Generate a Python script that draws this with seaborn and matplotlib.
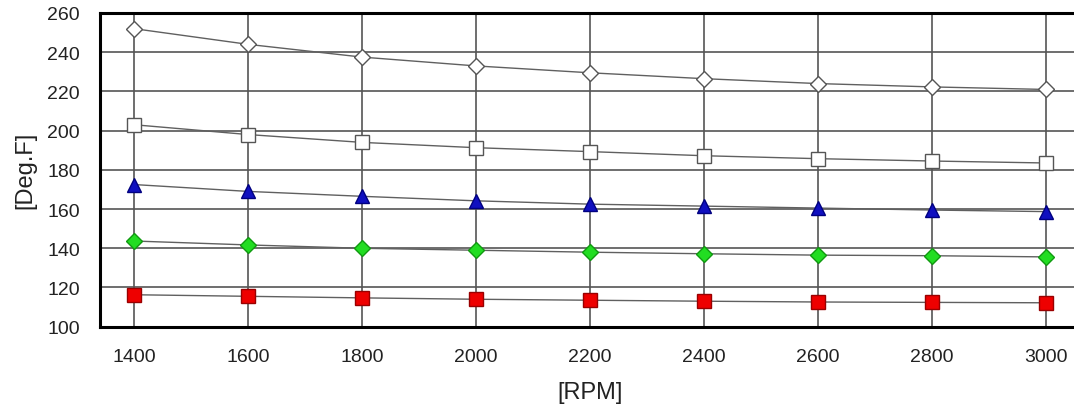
import matplotlib
matplotlib.use("Agg")
import matplotlib.pyplot as plt
import seaborn as sns
import pandas as pd

rpm = [1400, 1600, 1800, 2000, 2200, 2400, 2600, 2800, 3000]
series_top = [252, 244, 237.5, 233, 229.5, 226.5, 224, 222.3, 221]
series_square = [203, 198, 194, 191.3, 189.3, 187.2, 185.7, 184.5, 183.5]
series_blue = [172.5, 169, 166.5, 164.2, 162.5, 161.5, 160.5, 159.5, 158.7]
series_green = [143.7, 141.7, 140, 139, 138, 137.2, 136.5, 136.2, 135.6]
series_red = [116.3, 115.5, 114.7, 114, 113.5, 113, 112.6, 112.4, 112.2]
y_ticks = [100, 120, 140, 160, 180, 200, 220, 240, 260]

sns.set_theme(style="white")
plt.rcParams["font.family"] = ["Liberation Sans", "DejaVu Sans"]

fig = plt.figure(figsize=(10.74, 4.06), dpi=100)
W, H = 1074, 406
left, top, bottom = 100, 14, 327.7
xmin, xmax = 1340, 3060
px_per_rpm = 114 / 200
right = left + (xmax - xmin) * px_per_rpm
ax = fig.add_axes([left / W, (H - bottom) / H, (right - left) / W, (bottom - top) / H])

styles = [
    (series_top, "D", 8.5, "white", "#555555"),
    (series_square, "s", 10, "white", "#555555"),
    (series_blue, "^", 9.5, "#1010c0", "#000080"),
    (series_green, "D", 8.5, "#22dd22", "#119911"),
    (series_red, "s", 9.5, "#ee0000", "#990000"),
]
for vals, mk, ms, fc, ec in styles:
    df = pd.DataFrame({"rpm": rpm, "temp": vals})
    sns.lineplot(data=df, x="rpm", y="temp", ax=ax, color="#606060", linewidth=1.0,
                 marker=mk, markersize=ms, markerfacecolor=fc, markeredgecolor=ec,
                 markeredgewidth=1.0, zorder=3)

ax.set_xlim(xmin, xmax)
ax.set_ylim(100, 260)
ax.set_xticks(rpm)
ax.set_yticks(y_ticks)
ax.grid(True, color="#555555", linewidth=1.2)
ax.set_axisbelow(True)
for side in ["top", "bottom", "left"]:
    ax.spines[side].set_color("black")
    ax.spines[side].set_linewidth(2.2)
ax.spines["right"].set_visible(False)
ax.tick_params(axis="x", length=0, pad=15, labelsize=14, labelcolor="#222222")
ax.tick_params(axis="y", length=0, pad=14.5, labelsize=14, labelcolor="#222222")
ax.set_xlabel("[RPM]", fontsize=17, color="#222222", labelpad=12)
ax.set_ylabel("[Deg.F]", fontsize=17, color="#222222", labelpad=8)

fig.savefig("out.png", dpi=100)
